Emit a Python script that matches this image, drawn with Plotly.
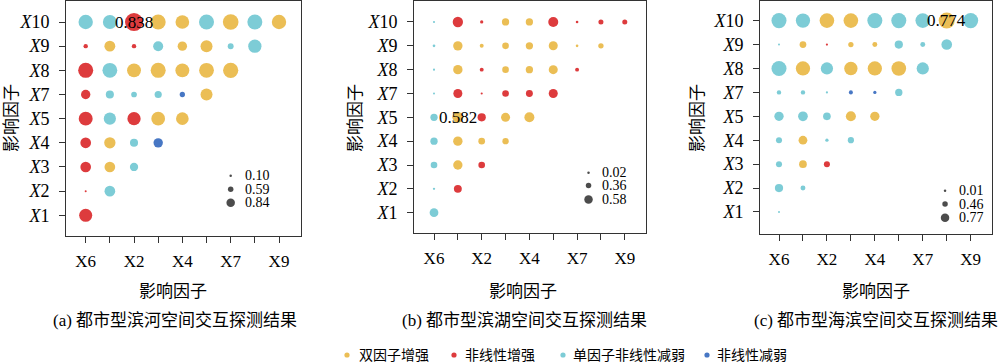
import plotly.graph_objects as go

# ---------------- data ----------------
x_factors = ["X6", "X1", "X2", "X3", "X4", "X5", "X7", "X8", "X9"]
y_factors = ["X1", "X2", "X3", "X4", "X5", "X7", "X8", "X9", "X10"]
x_tick_labels = ["X6", "", "X2", "", "X4", "", "X7", "", "X9"]

type_names = {"Y": "双因子增强", "R": "非线性增强", "C": "单因子非线性减弱", "B": "非线性减弱"}
type_order = ["Y", "R", "C", "B"]

# panel (a) 都市型滨河
a_values = [
    [0.61],
    [0.10, 0.50],
    [0.50, 0.50, 0.39],
    [0.50, 0.53, 0.38, 0.44],
    [0.65, 0.57, 0.62, 0.64, 0.59],
    [0.44, 0.38, 0.27, 0.34, 0.25, 0.56],
    [0.70, 0.69, 0.65, 0.70, 0.65, 0.69, 0.71],
    [0.21, 0.51, 0.21, 0.47, 0.44, 0.56, 0.28, 0.62],
    [0.67, 0.65, 0.838, 0.70, 0.64, 0.70, 0.73, 0.70, 0.67],
]
a_types = [
    ["R"],
    ["R", "C"],
    ["R", "Y", "C"],
    ["R", "Y", "C", "B"],
    ["R", "C", "R", "Y", "Y"],
    ["R", "C", "C", "C", "B", "Y"],
    ["R", "C", "Y", "Y", "Y", "Y", "Y"],
    ["R", "Y", "R", "C", "Y", "Y", "C", "C"],
    ["C", "C", "R", "Y", "Y", "C", "Y", "C", "Y"],
]
a_size_breaks = [0.10, 0.59, 0.84]

# panel (b) 都市型滨湖
b_values = [
    [0.44],
    [0.04, 0.39],
    [0.31, 0.48, 0.31],
    [0.35, 0.48, 0.31, 0.29],
    [0.35, 0.582, 0.41, 0.46, 0.52],
    [0.02, 0.46, 0.03, 0.31, 0.33, 0.46],
    [0.03, 0.48, 0.14, 0.31, 0.35, 0.46, 0.14],
    [0.06, 0.48, 0.14, 0.31, 0.35, 0.46, 0.06, 0.23],
    [0.03, 0.54, 0.10, 0.35, 0.35, 0.52, 0.06, 0.21, 0.21],
]
b_types = [
    ["C"],
    ["C", "R"],
    ["C", "Y", "R"],
    ["C", "Y", "Y", "Y"],
    ["C", "Y", "R", "Y", "Y"],
    ["C", "R", "R", "R", "R", "R"],
    ["C", "Y", "R", "Y", "Y", "Y", "R"],
    ["C", "Y", "Y", "Y", "Y", "Y", "Y", "Y"],
    ["C", "R", "R", "Y", "Y", "R", "R", "R", "R"],
]
b_size_breaks = [0.02, 0.36, 0.58]

# panel (c) 都市型海滨
c_values = [
    [0.01],
    [0.35, 0.17],
    [0.23, 0.32, 0.23],
    [0.23, 0.38, 0.08, 0.24],
    [0.41, 0.43, 0.32, 0.45, 0.41],
    [0.14, 0.14, 0.02, 0.12, 0.08, 0.30],
    [0.72, 0.68, 0.57, 0.63, 0.68, 0.70, 0.57],
    [0.01, 0.27, 0.02, 0.19, 0.17, 0.35, 0.17, 0.48],
    [0.72, 0.68, 0.70, 0.70, 0.72, 0.72, 0.70, 0.774, 0.72],
]
c_types = [
    ["C"],
    ["C", "C"],
    ["C", "Y", "R"],
    ["C", "Y", "C", "C"],
    ["C", "C", "C", "Y", "Y"],
    ["C", "C", "C", "B", "B", "C"],
    ["C", "Y", "C", "Y", "Y", "Y", "C"],
    ["C", "Y", "R", "Y", "Y", "C", "C", "C"],
    ["C", "C", "Y", "Y", "C", "C", "C", "Y", "C"],
]
c_size_breaks = [0.01, 0.46, 0.77]

captions = ["(a) 都市型滨河空间交互探测结果", "(b) 都市型滨湖空间交互探测结果", "(c) 都市型海滨空间交互探测结果"]
axis_title = "影响因子"

# ---------------- styles / layout ----------------
colors = {"Y": "#EBBE55", "R": "#DD3B3D", "C": "#7DCCD6", "B": "#4777C4"}
SERIF = "Liberation Serif, Times New Roman, Noto Sans CJK SC, serif"
CJK = "Liberation Serif, Noto Sans CJK SC, serif"
W, H = 1000, 362

panels = [
    dict(values=a_values, types=a_types, breaks=a_size_breaks, dmax=18.0,
         px=(66, 301), py=(1, 236), xr=(0.185, 9.91), yr=(0.143, 9.87),
         leg_x=7.0, leg_tx=7.5, leg_y=[2.64, 2.08, 1.52],
         ytitle_x=12, title_x=173, cap_x=175),
    dict(values=b_values, types=b_types, breaks=b_size_breaks, dmax=11.0,
         px=(414, 646), py=(1, 233), xr=(0.161, 9.89), yr=(0.148, 9.88),
         leg_x=7.48, leg_tx=7.94, leg_y=[2.68, 2.14, 1.55],
         ytitle_x=356, title_x=523, cap_x=524),
    dict(values=c_values, types=c_types, breaks=c_size_breaks, dmax=16.0,
         px=(760, 992), py=(1, 234), xr=(0.207, 9.89), yr=(0.08, 9.82),
         leg_x=7.93, leg_tx=8.42, leg_y=[1.89, 1.33, 0.76],
         ytitle_x=698, title_x=876, cap_x=876),
]
DMIN = 2.0
legend_dot_sizes = [2.5, 5.5, 8.5]

fig = go.Figure()
annotations = []
shapes = []

for i, p in enumerate(panels):
    ax = "" if i == 0 else str(i + 1)
    xref, yref = "x" + ax, "y" + ax
    vmin, vmax = p["breaks"][0], max(max(r) for r in p["values"])

    def size_of(v, vmin=vmin, vmax=vmax, dmax=p["dmax"]):
        return DMIN + (dmax - DMIN) * max(0.0, (v - vmin)) / (vmax - vmin)

    # points by type
    for t in type_order:
        xs, ys, ss = [], [], []
        for ri, (row_v, row_t) in enumerate(zip(p["values"], p["types"])):
            for ci, (v, tt) in enumerate(zip(row_v, row_t)):
                if tt == t:
                    xs.append(x_factors[ci])
                    ys.append(y_factors[ri])
                    ss.append(size_of(v))
        if xs:
            fig.add_trace(go.Scatter(
                x=[x_factors.index(x) + 1 for x in xs],
                y=[y_factors.index(y) + 1 for y in ys],
                mode="markers", name=type_names[t], showlegend=False,
                marker=dict(size=ss, color=colors[t], line=dict(width=0), opacity=1),
                xaxis=xref, yaxis=yref, hoverinfo="skip"))

    # max value label
    best = max(((v, ri, ci) for ri, r in enumerate(p["values"]) for ci, v in enumerate(r)))
    annotations.append(dict(x=best[2] + 1, y=best[1] + 1, xref=xref, yref=yref,
                            text=f"{best[0]:.3f}", showarrow=False,
                            xanchor="center", yanchor="middle",
                            font=dict(family=SERIF, size=17, color="black")))

    # size legend inside panel
    fig.add_trace(go.Scatter(
        x=[p["leg_x"]] * 3, y=p["leg_y"], mode="markers", showlegend=False,
        marker=dict(size=legend_dot_sizes, color="black", line=dict(width=0)),
        xaxis=xref, yaxis=yref, hoverinfo="skip"))
    for b, yy in zip(p["breaks"], p["leg_y"]):
        annotations.append(dict(x=p["leg_tx"], y=yy, xref=xref, yref=yref,
                                text=f"{b:.2f}", showarrow=False, xanchor="left",
                                yanchor="middle",
                                font=dict(family=SERIF, size=14, color="black")))

    dom_x = [p["px"][0] / W, p["px"][1] / W]
    dom_y = [1 - p["py"][1] / H, 1 - p["py"][0] / H]
    fig.layout["xaxis" + ax] = dict(
        domain=dom_x, range=list(p["xr"]), anchor=yref, automargin=False,
        tickmode="array", tickvals=list(range(1, 10)), ticktext=x_tick_labels,
        ticks="outside", ticklen=6, tickcolor="#333", tickwidth=1,
        showline=True, linecolor="#333", linewidth=1, mirror=True,
        showgrid=False, zeroline=False, ticklabelstandoff=4,
        tickfont=dict(family=SERIF, size=17, color="black"))
    fig.layout["yaxis" + ax] = dict(
        domain=dom_y, range=list(p["yr"]), anchor=xref, automargin=False,
        tickmode="array", tickvals=list(range(1, 10)),
        ticktext=["<i>X</i>" + y[1:] for y in y_factors],
        ticks="outside", ticklen=6, tickcolor="#333", tickwidth=1,
        showline=True, linecolor="#333", linewidth=1, mirror=True,
        showgrid=False, zeroline=False, ticklabelstandoff=6,
        tickfont=dict(family=SERIF, size=18, color="black"))

    # titles
    annotations.append(dict(x=p["ytitle_x"] / W, y=1 - 118 / H, xref="paper", yref="paper",
                            text=axis_title, textangle=-90, showarrow=False,
                            xanchor="center", yanchor="middle",
                            font=dict(family=CJK, size=17, color="black")))
    annotations.append(dict(x=p["title_x"] / W, y=1 - 291 / H, xref="paper", yref="paper",
                            text=axis_title, showarrow=False,
                            xanchor="center", yanchor="middle",
                            font=dict(family=CJK, size=17, color="black")))
    annotations.append(dict(x=p["cap_x"] / W, y=1 - 320 / H, xref="paper", yref="paper",
                            text=captions[i], showarrow=False,
                            xanchor="center", yanchor="middle",
                            font=dict(family=CJK, size=17, color="black")))

# bottom shared legend
legend_dot_x = [347, 454, 563, 707]
legend_text_x = [357, 463, 571, 715]
LY = 355
for t, dx, tx in zip(type_order, legend_dot_x, legend_text_x):
    r = 2.6
    shapes.append(dict(type="circle", xref="paper", yref="paper",
                       x0=(dx - r) / W, x1=(dx + r) / W,
                       y0=1 - (LY + r) / H, y1=1 - (LY - r) / H,
                       fillcolor=colors[t], line=dict(width=0)))
    annotations.append(dict(x=tx / W, y=1 - LY / H, xref="paper", yref="paper",
                            text=type_names[t], showarrow=False, xanchor="left",
                            yanchor="middle",
                            font=dict(family=CJK, size=14, color="black")))

fig.update_layout(width=W, height=H, margin=dict(l=0, r=0, t=0, b=0, pad=0),
                  autosize=False,
                  plot_bgcolor="white", paper_bgcolor="white",
                  annotations=annotations, shapes=shapes, showlegend=False)

fig.write_html("out.html", config={"displayModeBar": False},
               post_script="document.body.style.margin='0';document.body.style.padding='0';")
